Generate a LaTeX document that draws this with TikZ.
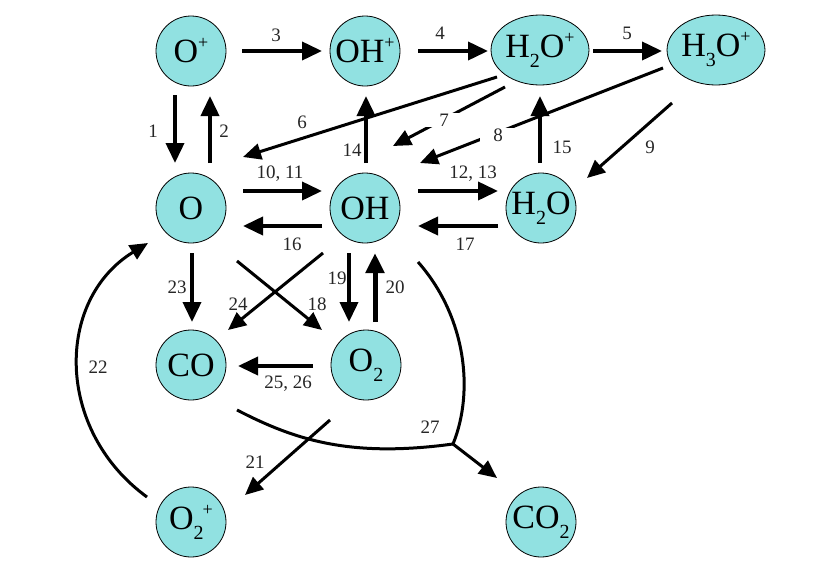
\documentclass[tikz,border=0pt]{standalone}
\usepackage{fontspec}
\setmainfont{Liberation Serif}
\usetikzlibrary{arrows.meta,calc,shapes.geometric}
\definecolor{spc}{RGB}{145,225,225}
\newcommand\mysub[1]{\raisebox{-10pt}{\fontsize{20}{20}\selectfont #1}}
\newcommand\mysup{\raisebox{14pt}{\fontsize{18}{18}\selectfont +}}
\begin{document}
\begin{tikzpicture}[x=1pt,y=-1pt,
  sp/.style={circle,draw=black,line width=0.8pt,fill=spc,minimum size=70pt,inner sep=0pt,font=\fontsize{34}{36}\selectfont},
  spe/.style={ellipse,draw=black,line width=0.8pt,fill=spc,minimum width=87pt,minimum height=70pt,inner sep=0pt,font=\fontsize{34}{36}\selectfont},
  arr/.style={line width=3.8pt,-{Triangle[length=20pt,width=18pt]}},
  darr/.style={line width=3pt,-{Triangle[length=18pt,width=16pt]}},
  cline/.style={line width=3pt},
  lab/.style={font=\fontsize{19}{21}\selectfont,inner sep=1pt,text=black!85}]
\useasboundingbox (0,0) rectangle (831,573);
% species
\node[sp]  (Op)   at (191,51)  {O\mysup};
\node[sp]  (OHp)  at (365,51)  {OH\mysup};
\node[spe] (H2Op) at (540,50)  {H\mysub{2}O\mysup};
\node[spe] (H3Op) at (716,50)  {H\mysub{3}O\mysup};
\node[sp]  (O)    at (191,208) {O};
\node[sp]  (OH)   at (365,208) {OH};
\node[sp]  (H2O)  at (541,208) {H\mysub{2}O};
\node[sp]  (CO)   at (191,365) {CO};
\node[sp]  (O2)   at (366,365) {O\mysub{2}};
\node[sp]  (O2p)  at (191,522) {O\mysub{2}\hspace{-1pt}\mysup};
\node[sp]  (CO2)  at (541,522) {CO\mysub{2}};
% straight arrows
\draw[arr] ($(Op)+(51,0)$) -- ($(OHp)+(-43,0)$);
\draw[arr] ($(Op)+(-16,44)$) -- ($(O)+(-16,-45)$);
\draw[arr] ($(O)+(19,-45)$) -- ($(Op)+(19,45)$);
\draw[arr] ($(OHp)+(53,0)$) -- ($(H2Op)+(-52,1)$);
\draw[arr] ($(H2Op)+(53,1)$) -- ($(H3Op)+(-54,1)$);
\draw[darr] ($(H2Op)+(-43,27)$) -- ($(O)+(52,-51)$);
\draw[darr] ($(H2Op)+(-35,37)$) -- ($(OH)+(28,-62)$);
\draw[darr] ($(H3Op)+(-53,18)$) -- ($(OH)+(55,-45)$);
\draw[darr] ($(H3Op)+(-44,53)$) -- ($(H2O)+(46,-30)$);
\draw[arr] ($(OH)+(1,-45)$) -- ($(OHp)+(1,45)$);
\draw[arr] ($(H2O)+(-1,-45)$) -- ($(H2Op)+(0,46)$);
\draw[arr] ($(O)+(52,-17)$) -- ($(OH)+(-43,-17)$);
\draw[arr] ($(OH)+(-43,18)$) -- ($(O)+(52,18)$);
\draw[arr] ($(OH)+(53,-17)$) -- ($(H2O)+(-43,-17)$);
\draw[arr] ($(H2O)+(-43,18)$) -- ($(OH)+(53,18)$);
\draw[arr] ($(O)+(1,45)$) -- ($(CO)+(1,-43)$);
\draw[darr] ($(OH)+(-42,45)$) -- ($(CO)+(37,-35)$);
\draw[darr] ($(O)+(46,53)$) -- ($(O2)+(-44,-35)$);
\draw[arr] ($(OH)+(-16,45)$) -- ($(O2)+(-17,-43)$);
\draw[arr,line width=5pt] ($(O2)+(9,-43)$) -- ($(OH)+(10,45)$);
\draw[arr] ($(O2)+(-53,1)$) -- ($(CO)+(47,1)$);
\draw[darr] ($(O2)+(-36,55)$) -- ($(O2p)+(54,-27)$);
% curved arrow 22
\draw[darr] ($(O2p)+(-44,-25)$) .. controls (55,430) and (55,300) .. ($(O)+(-43,35)$);
% reaction 27
\coordinate (j27) at (453,444);
\draw[cline] ($(OH)+(53,54)$) .. controls (465,315) and (475,390) .. (j27);
\draw[cline] ($(CO)+(46,45)$) .. controls (295,440) and (350,458) .. (j27);
\draw[darr] (j27) -- ($(CO2)+(-44,-44)$);
% labels
\node[lab] (l1) at (153,131) {1};
\node[lab] (l2) at (224,131) {2};
\node[lab] (l3) at (276,35) {3};
\node[lab] (l4) at (440,33) {4};
\node[lab] (l5) at (627,33) {5};
\node[lab] (l6) at (302,122) {6};
\node[lab,fill=white,minimum width=38pt] (l7) at (444,120) {7};
\node[lab,fill=white,minimum width=36pt,minimum height=14pt] (l8) at (498,135) {8};
\node[lab] (l9) at (650,147) {9};
\node[lab] (l1011) at (280,174) {10, 11};
\node[lab] (l1213) at (473,174) {12, 13};
\node[lab] (l14) at (352,150) {14};
\node[lab] (l15) at (562,147) {15};
\node[lab] (l16) at (292,244) {16};
\node[lab] (l17) at (465,244) {17};
\node[lab] (l18) at (317,304) {18};
\node[lab] (l19) at (337,278) {19};
\node[lab] (l20) at (395,287) {20};
\node[lab] (l21) at (255,462) {21};
\node[lab] (l22) at (98,367) {22};
\node[lab] (l23) at (177,287) {23};
\node[lab] (l24) at (238,304) {24};
\node[lab] (l2526) at (288,384) {25, 26};
\node[lab] (l27) at (430,427) {27};
\end{tikzpicture}
\end{document}
